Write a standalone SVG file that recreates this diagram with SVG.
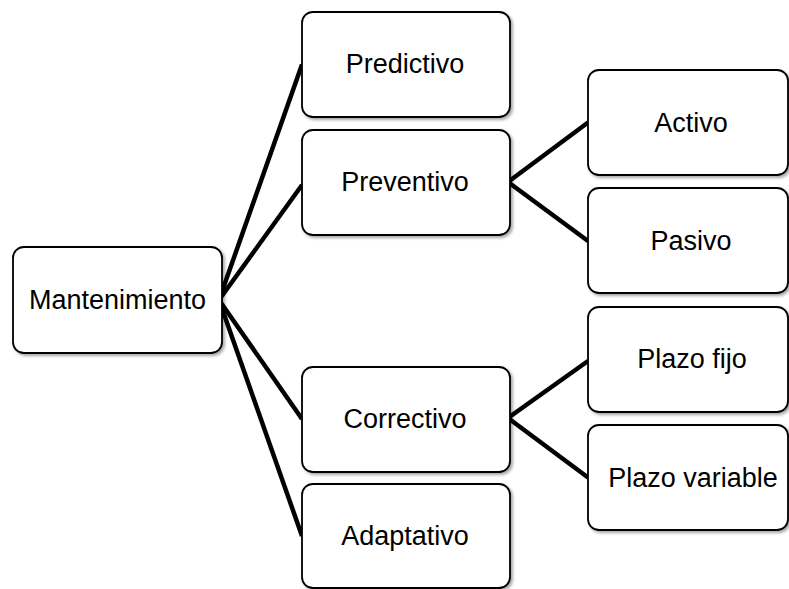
<svg xmlns="http://www.w3.org/2000/svg" width="789" height="589" viewBox="0 0 789 589">
<style>
.box{fill:#fff;stroke:#000;stroke-width:1.8;filter:url(#sh)}
.lbl{font-family:"Liberation Sans",Arial,sans-serif;font-size:27px;fill:#000;text-anchor:middle}
.con{stroke:#000;stroke-width:4.5;fill:none;stroke-linecap:butt}
</style>
<defs>
<filter id="sh" x="-10%" y="-10%" width="130%" height="130%">
<feDropShadow dx="2" dy="2" stdDeviation="1.5" flood-color="#000" flood-opacity="0.35"/>
</filter>
</defs>
<rect width="789" height="589" fill="#fff"/>
<g id="connectors">
<line class="con" x1="219" y1="300" x2="302" y2="64.5"/>
<line class="con" x1="219" y1="300" x2="302" y2="185"/>
<line class="con" x1="219" y1="300" x2="302" y2="419"/>
<line class="con" x1="219" y1="300" x2="302" y2="536"/>
<line class="con" x1="508" y1="182" x2="588" y2="122.5"/>
<line class="con" x1="508" y1="182" x2="588" y2="241"/>
<line class="con" x1="508" y1="418" x2="588" y2="361"/>
<line class="con" x1="508" y1="418" x2="588" y2="477.5"/>
</g>
<g id="mantenimiento"><rect class="box" x="13" y="247" width="209" height="106" rx="11"/><text class="lbl" x="117.5" y="309">Mantenimiento</text></g>
<g id="predictivo"><rect class="box" x="302" y="12" width="208" height="105" rx="11"/><text class="lbl" x="405" y="73">Predictivo</text></g>
<g id="preventivo"><rect class="box" x="302" y="130" width="208" height="105" rx="11"/><text class="lbl" x="405" y="191">Preventivo</text></g>
<g id="correctivo"><rect class="box" x="302" y="367" width="208" height="105" rx="11"/><text class="lbl" x="405" y="428">Correctivo</text></g>
<g id="adaptativo"><rect class="box" x="302" y="484" width="208" height="104" rx="11"/><text class="lbl" x="405" y="545">Adaptativo</text></g>
<g id="activo"><rect class="box" x="588" y="70" width="200" height="105" rx="11"/><text class="lbl" x="691" y="132">Activo</text></g>
<g id="pasivo"><rect class="box" x="588" y="188" width="200" height="105" rx="11"/><text class="lbl" x="691" y="250">Pasivo</text></g>
<g id="plazo-fijo"><rect class="box" x="588" y="307" width="200" height="105" rx="11"/><text class="lbl" x="692" y="368">Plazo fijo</text></g>
<g id="plazo-variable"><rect class="box" x="588" y="425" width="200" height="105" rx="11"/><text class="lbl" x="693" y="487">Plazo variable</text></g>
</svg>
